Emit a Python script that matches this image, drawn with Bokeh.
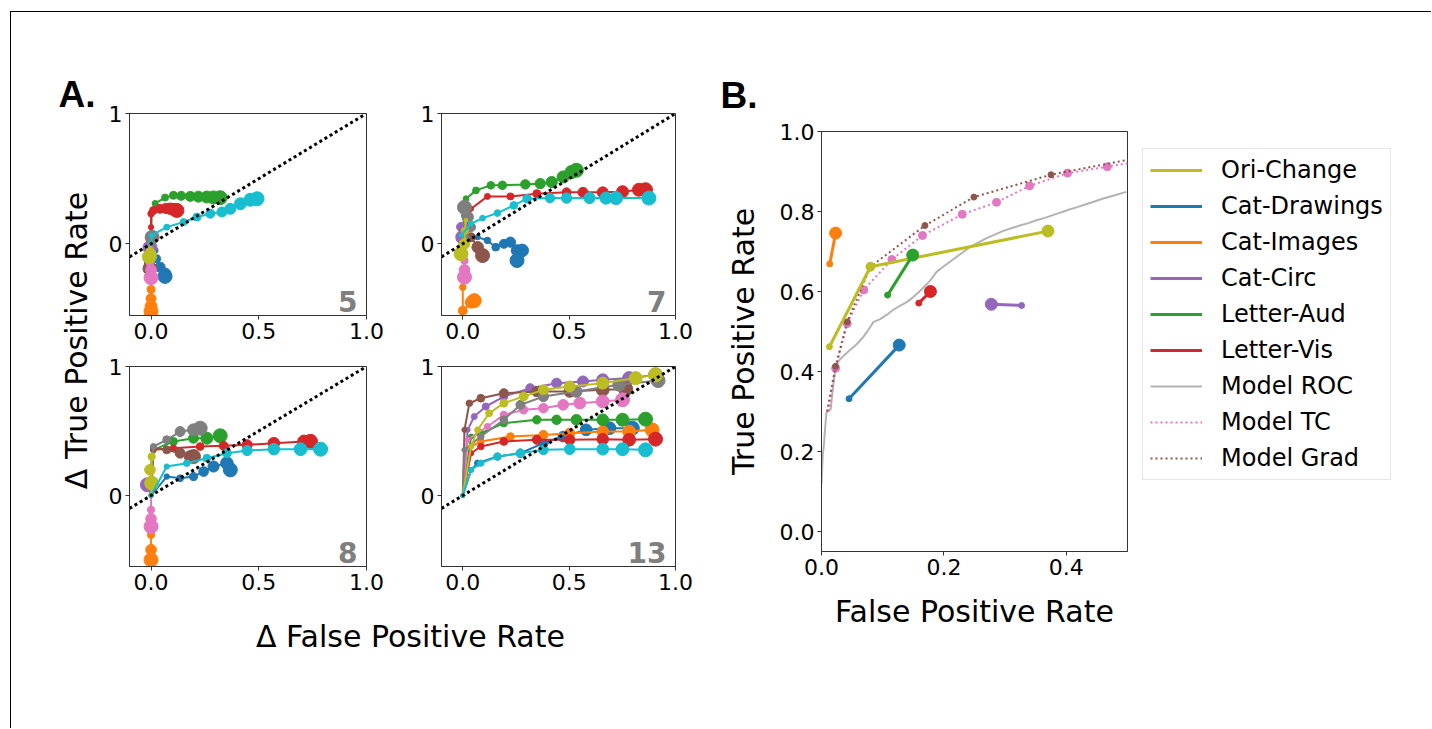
import math
from bokeh.plotting import figure
from bokeh.layouts import row, column
from bokeh.models import Range1d, FixedTicker, Legend, LegendItem, PrintfTickFormatter
from bokeh.core.properties import value
from bokeh.embed import file_html
from bokeh.resources import INLINE

# ---------------- colours (matplotlib tab10) ----------------
C = {"blue": "#1f77b4", "orange": "#ff7f0e", "green": "#2ca02c", "red": "#d62728",
     "purple": "#9467bd", "brown": "#8c564b", "pink": "#e377c2", "gray": "#7f7f7f",
     "olive": "#bcbd22", "cyan": "#17becf"}

# ---------------- Panel A data: (dFPR, dTPR) per series ----------------
DIAG = [-0.1, 1.0]

# panel "5"
p5_blue = ([0.0, 0.019, 0.026, 0.042, 0.065, 0.065], [0.0, -0.051, -0.115, -0.179, -0.231, -0.25])
p5_orange = ([0.0, 0.0, 0.0, 0.0, 0.0, 0.0], [-0.22, -0.28, -0.35, -0.42, -0.48, -0.52])
p5_green = ([0.0, 0.003, 0.019, 0.065, 0.104, 0.14, 0.182, 0.22, 0.259, 0.29, 0.321],
            [0.0, 0.23, 0.31, 0.355, 0.372, 0.368, 0.364, 0.362, 0.359, 0.356, 0.354])
p5_red = ([0.0, 0.0, 0.0, 0.011, 0.042, 0.07, 0.09, 0.11, 0.12],
          [0.0, 0.128, 0.231, 0.256, 0.269, 0.272, 0.269, 0.262, 0.256])
p5_purple = ([0.0, -0.005], [0.0, -0.03])
p5_brown = ([0.0, -0.01, -0.005], [-0.05, -0.15, -0.19])
p5_pink = ([0.0, -0.005, 0.0, 0.0], [-0.1, -0.15, -0.2, -0.26])
p5_gray = ([0.0, 0.005], [0.0, 0.05])
p5_olive = ([0.0, -0.005, 0.0, -0.008], [0.0, -0.05, -0.08, -0.1])
p5_cyan = ([0.0, 0.003, 0.073, 0.151, 0.213, 0.275, 0.329, 0.368, 0.415, 0.461, 0.492],
           [0.0, 0.064, 0.128, 0.167, 0.205, 0.231, 0.244, 0.269, 0.308, 0.338, 0.346])

# panel "7"
p7_blue = ([0.0, 0.07, 0.116, 0.155, 0.193, 0.224, 0.255, 0.279, 0.255],
           [0.0, 0.051, 0.026, -0.026, 0.0, 0.013, -0.051, -0.051, -0.128])
p7_orange = ([0.0, 0.0, 0.0, 0.039, 0.054], [-0.2, -0.333, -0.513, -0.449, -0.436])
p7_green = ([0.0, 0.005, 0.015, 0.062, 0.132, 0.186, 0.294, 0.364, 0.418, 0.472, 0.511, 0.534],
            [0.0, 0.218, 0.346, 0.41, 0.449, 0.449, 0.456, 0.462, 0.474, 0.513, 0.551, 0.564])
p7_red = ([0.0, 0.039, 0.116, 0.224, 0.348, 0.488, 0.565, 0.658, 0.751, 0.828, 0.859],
          [0.0, 0.269, 0.364, 0.364, 0.385, 0.395, 0.395, 0.395, 0.4, 0.415, 0.415])
p7_purple = ([0.0, -0.008, 0.0], [0.0, 0.13, 0.05])
p7_brown = ([0.0, 0.008, 0.039, 0.07, 0.093], [0.0, 0.1, 0.05, -0.026, -0.09])
p7_pink = ([0.0, 0.008, 0.008, 0.008], [-0.1, -0.128, -0.2, -0.256])
p7_gray = ([0.0, 0.015, 0.039, 0.023, 0.008], [0.0, 0.05, 0.128, 0.205, 0.28])
p7_olive = ([0.015, 0.01, 0.008, -0.008], [0.18, 0.1, 0.0, -0.077])
p7_cyan = ([-0.008, 0.039, 0.093, 0.163, 0.24, 0.302, 0.41, 0.488, 0.596, 0.673, 0.72, 0.875],
           [0.064, 0.154, 0.197, 0.236, 0.295, 0.346, 0.351, 0.351, 0.351, 0.351, 0.351, 0.351])

# panel "8"
p8_blue = ([0.0, 0.073, 0.135, 0.197, 0.244, 0.29, 0.352, 0.368],
           [0.0, 0.147, 0.134, 0.147, 0.186, 0.225, 0.251, 0.199])
p8_orange = ([0.0, 0.0, 0.0, 0.0], [-0.24, -0.305, -0.42, -0.499])
p8_green = ([0.0, 0.011, 0.104, 0.197, 0.259, 0.321], [0.0, 0.354, 0.419, 0.444, 0.444, 0.463])
p8_red = ([0.0, 0.011, 0.104, 0.228, 0.337, 0.446, 0.57, 0.71, 0.74],
          [0.0, 0.354, 0.367, 0.38, 0.385, 0.393, 0.406, 0.419, 0.42])
p8_purple = ([0.0, -0.017], [0.0, 0.083])
p8_brown = ([0.0, 0.011, 0.073, 0.135, 0.182, 0.197], [0.0, 0.367, 0.354, 0.328, 0.302, 0.302])
p8_pink = ([0.0, 0.0, 0.0, 0.0], [0.0, -0.111, -0.18, -0.24])
p8_gray = ([0.0, 0.011, 0.073, 0.135, 0.197, 0.228], [0.0, 0.38, 0.432, 0.496, 0.509, 0.522])
p8_olive = ([0.0, 0.003, -0.005, 0.003], [0.0, 0.302, 0.199, 0.096])
p8_cyan = ([0.0, 0.073, 0.166, 0.259, 0.352, 0.446, 0.57, 0.694, 0.787],
           [0.0, 0.225, 0.251, 0.289, 0.328, 0.349, 0.359, 0.359, 0.359])

# panel "13"
p13_blue = ([0.0, 0.039, 0.07, 0.163, 0.271, 0.379, 0.472, 0.58, 0.689, 0.797],
            [0.0, 0.199, 0.251, 0.302, 0.328, 0.406, 0.457, 0.509, 0.522, 0.522])
p13_orange = ([0.0, 0.039, 0.085, 0.224, 0.379, 0.503, 0.658, 0.782, 0.89],
              [0.0, 0.38, 0.419, 0.457, 0.47, 0.483, 0.496, 0.496, 0.509])
p13_green = ([0.0, 0.039, 0.085, 0.193, 0.348, 0.441, 0.534, 0.658, 0.751, 0.859],
             [0.0, 0.457, 0.483, 0.561, 0.587, 0.587, 0.587, 0.587, 0.587, 0.592])
p13_red = ([0.0, 0.039, 0.085, 0.193, 0.348, 0.503, 0.658, 0.782, 0.906],
           [0.0, 0.328, 0.38, 0.419, 0.432, 0.432, 0.437, 0.432, 0.437])
p13_purple = ([0.0, 0.023, 0.054, 0.108, 0.193, 0.317, 0.441, 0.565, 0.658, 0.782, 0.906],
              [0.0, 0.509, 0.612, 0.69, 0.767, 0.832, 0.871, 0.884, 0.897, 0.91, 0.935])
p13_brown = ([0.0, 0.008, 0.031, 0.085, 0.193, 0.348, 0.503, 0.658, 0.766],
             [0.0, 0.509, 0.715, 0.754, 0.793, 0.806, 0.806, 0.819, 0.824])
p13_pink = ([0.0, 0.023, 0.116, 0.193, 0.286, 0.379, 0.472, 0.55, 0.658, 0.751],
            [0.0, 0.432, 0.535, 0.625, 0.664, 0.677, 0.703, 0.716, 0.729, 0.742])
p13_gray = ([0.0, 0.008, 0.085, 0.193, 0.271, 0.379, 0.534, 0.735, 0.918],
            [0.0, 0.354, 0.457, 0.587, 0.703, 0.767, 0.806, 0.858, 0.891])
p13_olive = ([0.0, 0.039, 0.07, 0.124, 0.193, 0.286, 0.379, 0.503, 0.658, 0.813, 0.906],
             [0.0, 0.38, 0.509, 0.638, 0.716, 0.767, 0.819, 0.845, 0.871, 0.91, 0.935])
p13_cyan = ([0.0, 0.039, 0.085, 0.163, 0.271, 0.379, 0.503, 0.658, 0.751, 0.859],
            [0.0, 0.199, 0.251, 0.302, 0.328, 0.354, 0.359, 0.359, 0.359, 0.354])

PANEL_NUMBERS = ["5", "7", "8", "13"]

# ---------------- Panel B data (FPR, TPR) ----------------
ori_change = ([0.013, 0.080, 0.370], [0.462, 0.662, 0.751])
cat_drawings = ([0.045, 0.127], [0.332, 0.466])
cat_images = ([0.0135, 0.023], [0.669, 0.746])
cat_circ = ([0.327, 0.2775], [0.565, 0.568])
letter_aud = ([0.108, 0.149], [0.591, 0.691])
letter_vis = ([0.159, 0.178], [0.571, 0.600])

roc_fpr = [0.0, 0.002, 0.004, 0.006, 0.008, 0.015, 0.018, 0.023, 0.030, 0.036, 0.045, 0.053, 0.060,
           0.069, 0.077, 0.085, 0.096, 0.107, 0.118, 0.128, 0.140, 0.150, 0.160, 0.172, 0.180,
           0.188, 0.200, 0.215, 0.230, 0.242, 0.256, 0.269, 0.283, 0.296, 0.310, 0.324, 0.338,
           0.351, 0.365, 0.378, 0.392, 0.405, 0.418, 0.432, 0.446, 0.459, 0.478, 0.498]
roc_tpr = [0.118, 0.19, 0.217, 0.26, 0.297, 0.306, 0.35, 0.413, 0.43, 0.439, 0.452, 0.462, 0.472,
           0.488, 0.505, 0.524, 0.531, 0.542, 0.555, 0.564, 0.574, 0.586, 0.600, 0.618, 0.632,
           0.649, 0.663, 0.680, 0.697, 0.711, 0.722, 0.733, 0.742, 0.751, 0.758, 0.765, 0.771,
           0.778, 0.784, 0.791, 0.798, 0.805, 0.811, 0.818, 0.825, 0.832, 0.840, 0.849]

tc_fpr = [0.012, 0.023, 0.042, 0.069, 0.115, 0.165, 0.230, 0.286, 0.340, 0.402, 0.467, 0.52]
tc_tpr = [0.300, 0.408, 0.520, 0.604, 0.680, 0.740, 0.793, 0.823, 0.864, 0.896, 0.912, 0.925]

grad_fpr = [0.009, 0.023, 0.042, 0.080, 0.169, 0.249, 0.375, 0.52]
grad_tpr = [0.300, 0.413, 0.524, 0.662, 0.765, 0.836, 0.892, 0.935]

LEGEND_LABELS = ["Ori-Change", "Cat-Drawings", "Cat-Images", "Cat-Circ", "Letter-Aud",
                 "Letter-Vis", "Model ROC", "Model TC", "Model Grad"]

# ---------------- styling helpers ----------------
FONT = "DejaVu Sans"
AXC = "#333333"


def style_axes(p, tick_px="22px"):
    p.grid.visible = False
    p.outline_line_color = AXC
    p.outline_line_width = 1
    p.background_fill_color = "white"
    p.border_fill_color = "white"
    for ax in (p.xaxis[0], p.yaxis[0]):
        ax.axis_line_color = AXC
        ax.major_tick_line_color = AXC
        ax.major_tick_in = 0
        ax.major_tick_out = 4
        ax.minor_tick_line_color = None
        ax.major_label_text_font = FONT
        ax.major_label_text_font_size = tick_px
        ax.major_label_text_color = "black"
        ax.major_label_standoff = 3


def a_panel(w, h, bl, br, bt, bb, series, num):
    p = figure(width=w, height=h, x_range=Range1d(-0.1, 1.0), y_range=Range1d(-0.55, 1.0),
               output_backend="svg", toolbar_location=None, title=None,
               min_border_left=bl, min_border_right=br, min_border_top=bt, min_border_bottom=bb)
    style_axes(p)
    p.xaxis.ticker = FixedTicker(ticks=[0.0, 0.5, 1.0])
    p.xaxis.formatter = PrintfTickFormatter(format="%.1f")
    p.yaxis.ticker = FixedTicker(ticks=[0, 1])
    p.yaxis.formatter = PrintfTickFormatter(format="%d")
    for cname, (xs, ys) in series:
        col = C[cname]
        n = len(xs)
        sizes = [4 + 10.0 * i / max(n - 1, 1) for i in range(n)]
        p.line(xs, ys, line_color=col, line_width=2)
        p.scatter(xs, ys, size=sizes, fill_color=col, line_color=col)
    p.line(DIAG, DIAG, line_color="black", line_width=3, line_dash="3 3")
    p.text(x=[0.958], y=[-0.44], text=[num], text_align="right", text_baseline="middle",
           text_font=value(FONT), text_font_size=value("28px"), text_font_style="bold",
           text_color="#7f7f7f")
    return p


def text_fig(x0, x1, y0, y1):
    p = figure(width=x1 - x0, height=y1 - y0, x_range=Range1d(x0, x1), y_range=Range1d(y1, y0),
               output_backend="svg", toolbar_location=None, min_border=0, title=None,
               x_axis_location=None, y_axis_location=None)
    p.grid.visible = False
    p.outline_line_color = None
    p.background_fill_color = "white"
    p.border_fill_color = "white"
    return p


def ser(prefix):
    g = globals()
    order = ["blue", "orange", "green", "red", "purple", "brown", "pink", "gray", "olive", "cyan"]
    return [(c, g[prefix + "_" + c]) for c in order]


# ---------------- left label column ----------------
colL = text_fig(11, 100, 12, 728)
colL.text(x=[58], y=[94], text=["A."], text_align="left", text_baseline="middle",
          text_font=value("Liberation Sans"), text_font_size=value("37px"), text_font_style="bold",
          text_color="black")
colL.text(x=[76], y=[340], text=["Δ True Positive Rate"], angle=math.pi / 2, text_align="center",
          text_baseline="middle", text_font=value(FONT), text_font_size=value("30px"), text_color="black")

# ---------------- A grid ----------------
a1 = a_panel(300, 339, 29, 34, 101, 36, ser("p5"), PANEL_NUMBERS[0])
a2 = a_panel(300, 339, 41, 25, 101, 36, ser("p7"), PANEL_NUMBERS[1])
a3 = a_panel(300, 254, 29, 34, 15, 39, ser("p8"), PANEL_NUMBERS[2])
a4 = a_panel(300, 254, 41, 25, 15, 39, ser("p13"), PANEL_NUMBERS[3])

xlab = text_fig(100, 700, 605, 728)
xlab.text(x=[410], y=[636], text=["Δ False Positive Rate"], text_align="center", text_baseline="middle",
          text_font=value(FONT), text_font_size=value("30px"), text_color="black")

colA = column(row(a1, a2), row(a3, a4), column(xlab))

# ---------------- B ----------------
pb = figure(width=435, height=716, x_range=Range1d(0, 0.5), y_range=Range1d(-0.05, 1.0),
            output_backend="svg", toolbar_location=None, title="B.",
            min_border_left=121, min_border_right=8, min_border_top=119, min_border_bottom=177)
pb.title.align = "left"
pb.title.offset = -101
pb.title.text_font = "Liberation Sans"
pb.title.text_font_size = "37px"
pb.title.text_font_style = "bold"
pb.title.text_color = "black"
pb.title.standoff = 31
style_axes(pb)
pb.xaxis.ticker = FixedTicker(ticks=[0.0, 0.2, 0.4])
pb.yaxis.ticker = FixedTicker(ticks=[0.0, 0.2, 0.4, 0.6, 0.8, 1.0])
pb.xaxis.formatter = PrintfTickFormatter(format="%.1f")
pb.yaxis.formatter = PrintfTickFormatter(format="%.1f")
for ax, lab, so in ((pb.xaxis[0], "False Positive Rate", 16), (pb.yaxis[0], "True Positive Rate", 16)):
    ax.axis_label = lab
    ax.axis_label_text_font = FONT
    ax.axis_label_text_font_size = "30px"
    ax.axis_label_text_font_style = "normal"
    ax.axis_label_text_color = "black"
    ax.axis_label_standoff = so

ROC_STYLE = dict(line_color="#b3b3b3", line_width=2)
TC_STYLE = dict(line_color=C["pink"], line_width=2, line_dash="2 3")
GRAD_STYLE = dict(line_color=C["brown"], line_width=2, line_dash="2 3")

pb.line(roc_fpr, roc_tpr, **ROC_STYLE)
pb.line(tc_fpr, tc_tpr, **TC_STYLE)
pb.scatter(tc_fpr[1:-1], tc_tpr[1:-1], size=8, fill_color=C["pink"], line_color=C["pink"])
pb.line(grad_fpr, grad_tpr, **GRAD_STYLE)
pb.scatter(grad_fpr[1:-1], grad_tpr[1:-1], size=6, fill_color=C["brown"], line_color=C["brown"])

behav = [(ori_change, "olive"), (cat_drawings, "blue"), (cat_images, "orange"),
         (cat_circ, "purple"), (letter_aud, "green"), (letter_vis, "red")]
for (xs, ys), cname in behav:
    col = C[cname]
    n = len(xs)
    sizes = [6 + 6.0 * i / (n - 1) for i in range(n)]
    pb.line(xs, ys, line_color=col, line_width=3)
    pb.scatter(xs, ys, size=sizes, fill_color=col, line_color=col)

# ---------------- legend (own canvas to the right of B) ----------------
leg = figure(width=296, height=716, x_range=Range1d(0, 1), y_range=Range1d(0, 1),
             output_backend="svg", toolbar_location=None, min_border=0, title=None,
             x_axis_location=None, y_axis_location=None)
leg.grid.visible = False
leg.outline_line_color = None
leg.background_fill_color = "white"
leg.border_fill_color = "white"
leg_styles = [dict(line_color=C[c], line_width=3) for c in ["olive", "blue", "orange", "purple", "green", "red"]]
leg_styles += [ROC_STYLE, TC_STYLE, GRAD_STYLE]
NAN = float("nan")
items = []
for lab, st in zip(LEGEND_LABELS, leg_styles):
    r = leg.line([NAN], [NAN], **st)
    items.append(LegendItem(label=lab, renderers=[r]))

legend = Legend(items=items, location=(7, 248), margin=0, padding=7, spacing=8,
                glyph_width=52, glyph_height=28, label_height=28, label_standoff=19,
                label_text_font=FONT, label_text_font_size="24px", label_text_color="black",
                border_line_color="#cccccc", border_line_width=1, background_fill_alpha=0.8)
leg.add_layout(legend, "center")

layout = row(column(colL), colA, column(pb), column(leg), margin=(11, 0, 0, 10),
             styles={"border-top": "1px solid black", "border-left": "1px solid black"})

with open("out.html", "w", encoding="utf-8") as f:
    f.write(file_html(layout, INLINE))
